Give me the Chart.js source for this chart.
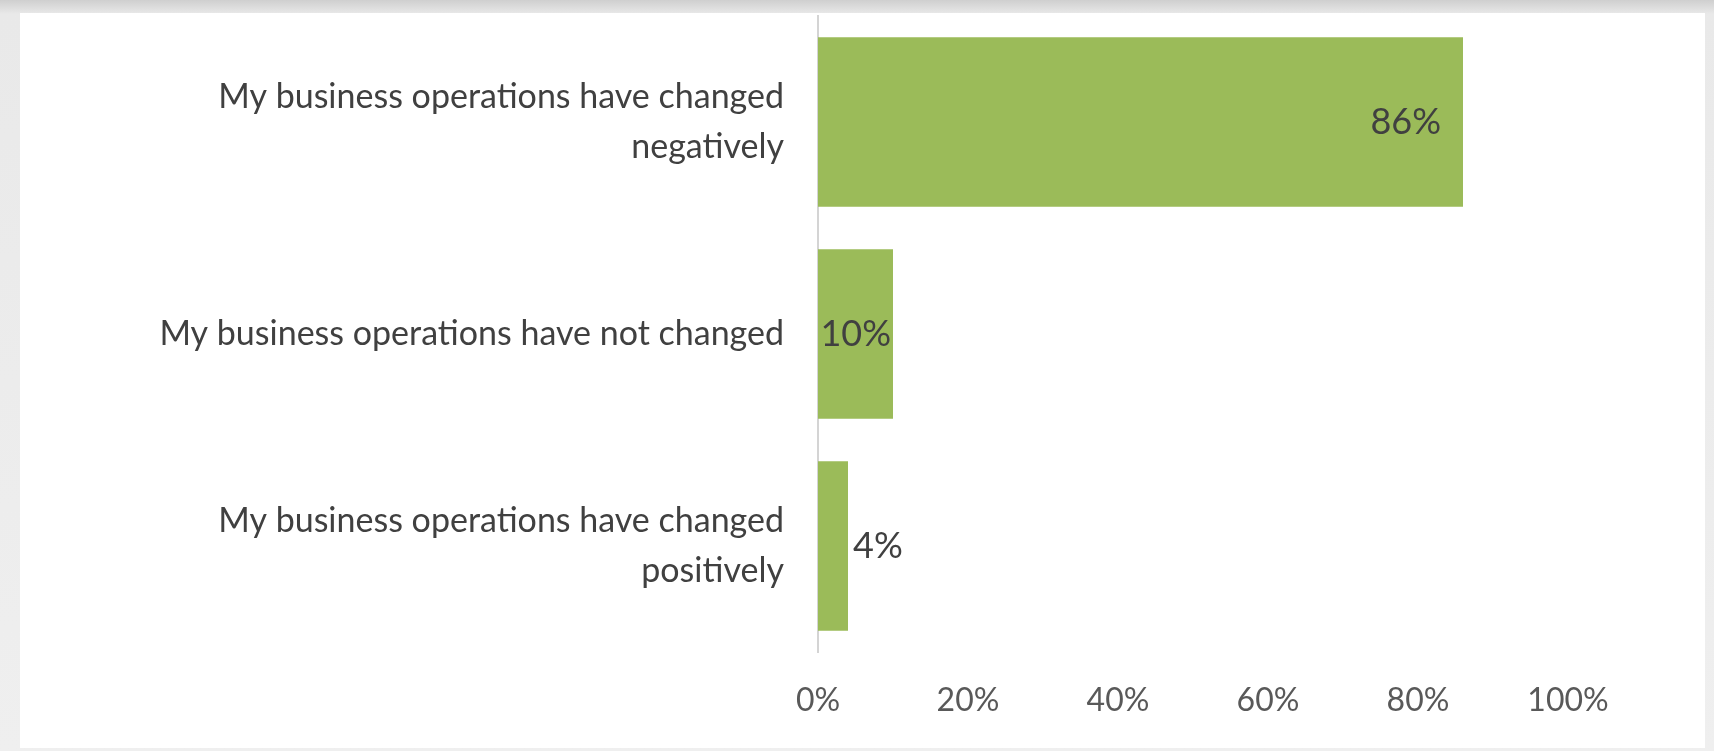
<!DOCTYPE html>
<html>
<head>
<meta charset="utf-8">
<script src="https://cdn.jsdelivr.net/npm/chart.js@4"></script>
<style>
  html, body { margin: 0; padding: 0; }
  body { width: 1714px; height: 751px; background: linear-gradient(#cfcfcf, #e9e9e9 14px, #efefef); position: relative; overflow: hidden; }
  #frame { position: absolute; left: 20px; top: 13px; width: 1685px; height: 735px; background: #fff; }
  #chart { display: block; }
</style>
</head>
<body>
<div id="frame"><canvas id="chart" width="1685" height="735"></canvas></div>
<script>
// --- Data ---
const categories = [
  ['My business operations have changed', 'negatively'],
  'My business operations have not changed',
  ['My business operations have changed', 'positively']
];
const shares = [86, 10, 4];
const xTicks = [0, 20, 40, 60, 80, 100];

const barColor  = '#9bbb59';
const textColor = '#404040';
const tickColor = '#595959';
const fontName  = 'Lato';

// --- Value labels: inside the bar end, or just past it when the bar is short ---
const valueLabels = {
  id: 'valueLabels',
  afterDatasetsDraw(chart) {
    const c = chart.ctx;
    const xs = chart.scales.x;
    const meta = chart.getDatasetMeta(0);
    c.save();
    c.font = `36px ${fontName}`;
    c.fillStyle = textColor;
    c.textBaseline = 'middle';
    meta.data.forEach((bar, i) => {
      const v = shares[i];
      const end = xs.getPixelForValue(v);
      const txt = v + '%';
      if (v >= 50) {
        c.textAlign = 'right';
        c.fillText(txt, end - 22, bar.y);
      } else if (v >= 10) {
        c.textAlign = 'right';
        c.fillText(txt, end - 2, bar.y);
      } else {
        c.textAlign = 'left';
        c.fillText(txt, end + 5, bar.y);
      }
    });
    c.restore();
  }
};

new Chart(document.getElementById('chart'), {
  type: 'bar',
  data: {
    labels: categories,
    datasets: [{
      data: shares,
      backgroundColor: barColor,
      borderWidth: 0,
      barPercentage: 0.8,
      categoryPercentage: 1
    }]
  },
  options: {
    indexAxis: 'y',
    responsive: false,
    animation: false,
    layout: { padding: { top: 3, right: 137, left: 0, bottom: 0 } },
    plugins: { legend: { display: false }, tooltip: { enabled: false } },
    scales: {
      x: {
        min: 0, max: 100,
        afterBuildTicks: s => { s.ticks = xTicks.map(v => ({ value: v })); },
        afterFit: s => { s.height = 96; s.paddingLeft = 0; s.paddingRight = 0; },
        grid: { display: false, drawTicks: false },
        border: { display: false },
        ticks: {
          padding: 29,
          color: tickColor,
          font: { family: fontName, size: 32 },
          callback: v => v + '%'
        }
      },
      y: {
        afterFit: s => { s.width = 798; s.paddingTop = 0; s.paddingBottom = 0; },
        grid: { display: false, drawTicks: false },
        border: { display: true, color: '#d4d4d4', width: 2 },
        ticks: {
          padding: 34,
          color: textColor,
          font: { family: fontName, size: 34, lineHeight: 1.45 }
        }
      }
    }
  },
  plugins: [valueLabels]
});
</script>
</body>
</html>
